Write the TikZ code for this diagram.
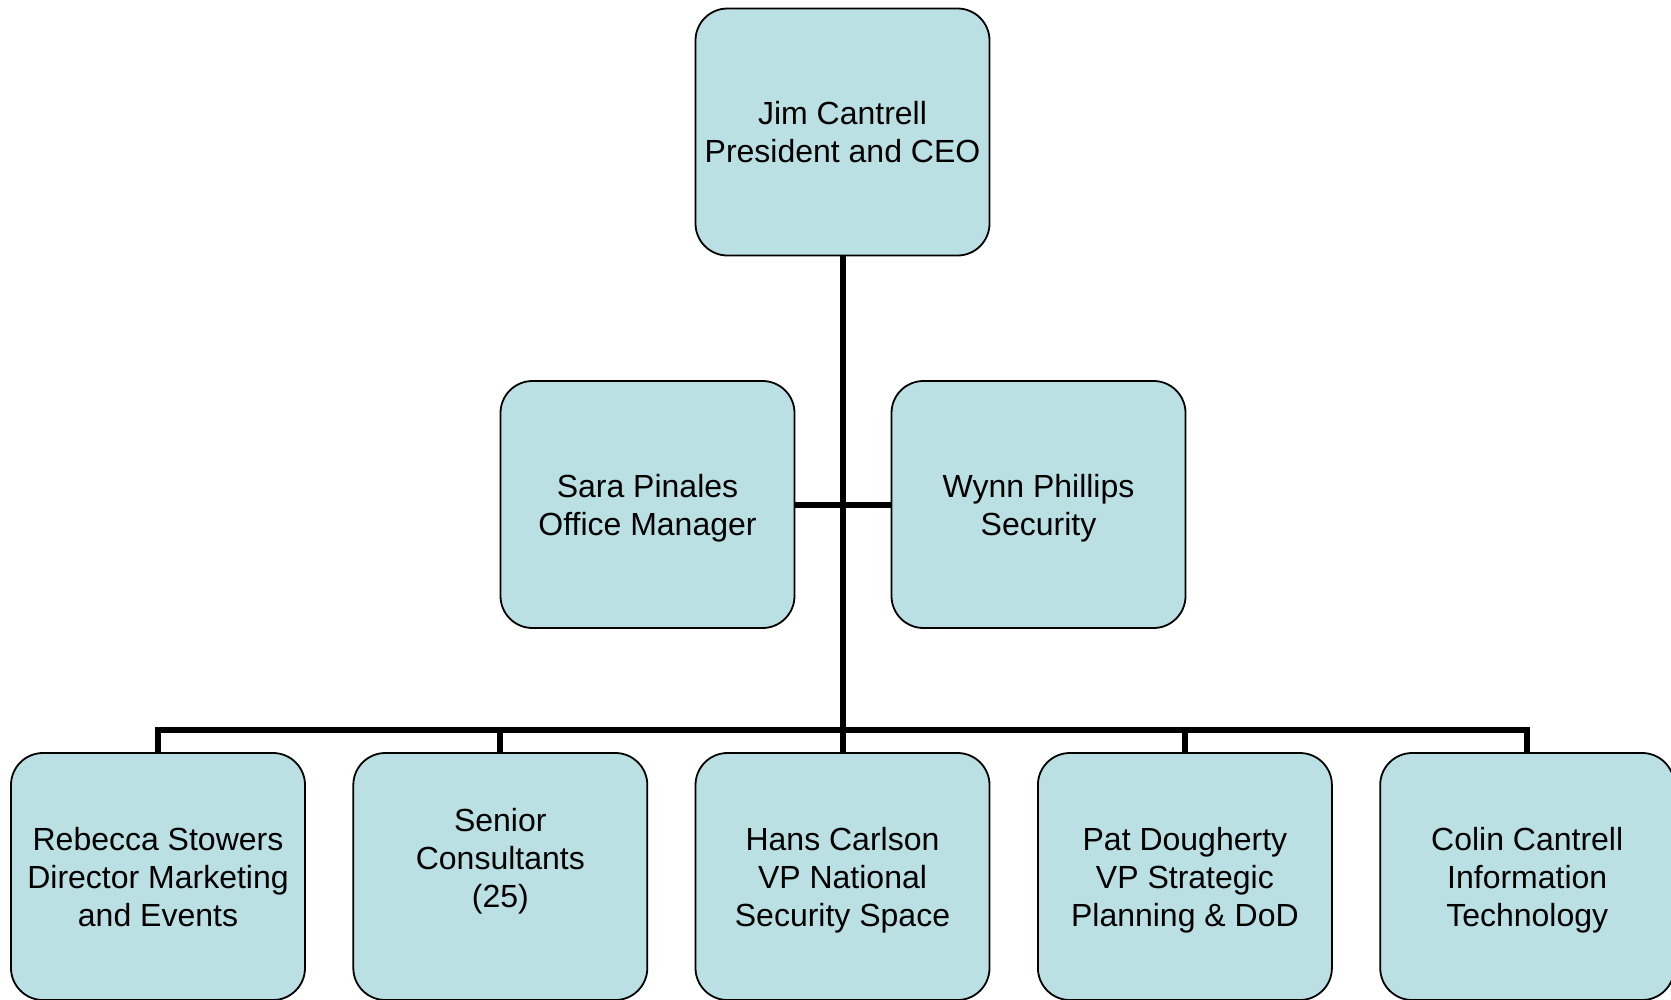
\documentclass[tikz,border=0pt]{standalone}
\usepackage{fontspec}
\setmainfont{Liberation Sans}
\definecolor{boxfill}{RGB}{186,224,227}
\tikzset{
    person/.style={rectangle, rounded corners=32bp, draw=black, line width=1.8bp,
        fill=boxfill, minimum width=294bp, minimum height=247bp,
        inner sep=0pt, outer sep=0pt, align=center, text depth=0pt,
        font=\fontsize{32bp}{38bp}\selectfont},
    link/.style={line width=6bp}
}
\begin{document}
\begin{tikzpicture}[x=1bp, y=-1bp]
        \useasboundingbox (0, 0) rectangle (1671, 999);

        \node[person] (ceo) at (842.5, 132) {Jim Cantrell\\President and CEO};
        \node[person] (sara) at (647.5, 504.5) {Sara Pinales\\Office Manager};
        \node[person] (wynn) at (1038.5, 504.5) {Wynn Phillips\\Security};

        \node[person] (rebecca) at (158, 876.5) {Rebecca Stowers\\Director Marketing\\and Events};
        \node[person] (senior) at (500.3, 876.5) {Senior\\Consultants\\(25)\\~};
        \node[person] (hans) at (842.5, 876.5) {Hans Carlson\\VP National\\Security Space};
        \node[person] (pat) at (1184.9, 876.5) {Pat Dougherty\\VP Strategic\\Planning \& DoD};
        \node[person] (colin) at (1527.2, 876.5) {Colin Cantrell\\Information\\Technology};

        \coordinate (bus) at (842.5, 730);

        \draw[link] (ceo) -- (hans);
        \draw[link] (sara) -- (wynn);
        \draw[link] (rebecca.north) |- (bus) -| (colin.north);
        \draw[link] (senior.north) -- (senior.north |- bus);
        \draw[link] (pat.north) -- (pat.north |- bus);

    \end{tikzpicture}
\end{document}
